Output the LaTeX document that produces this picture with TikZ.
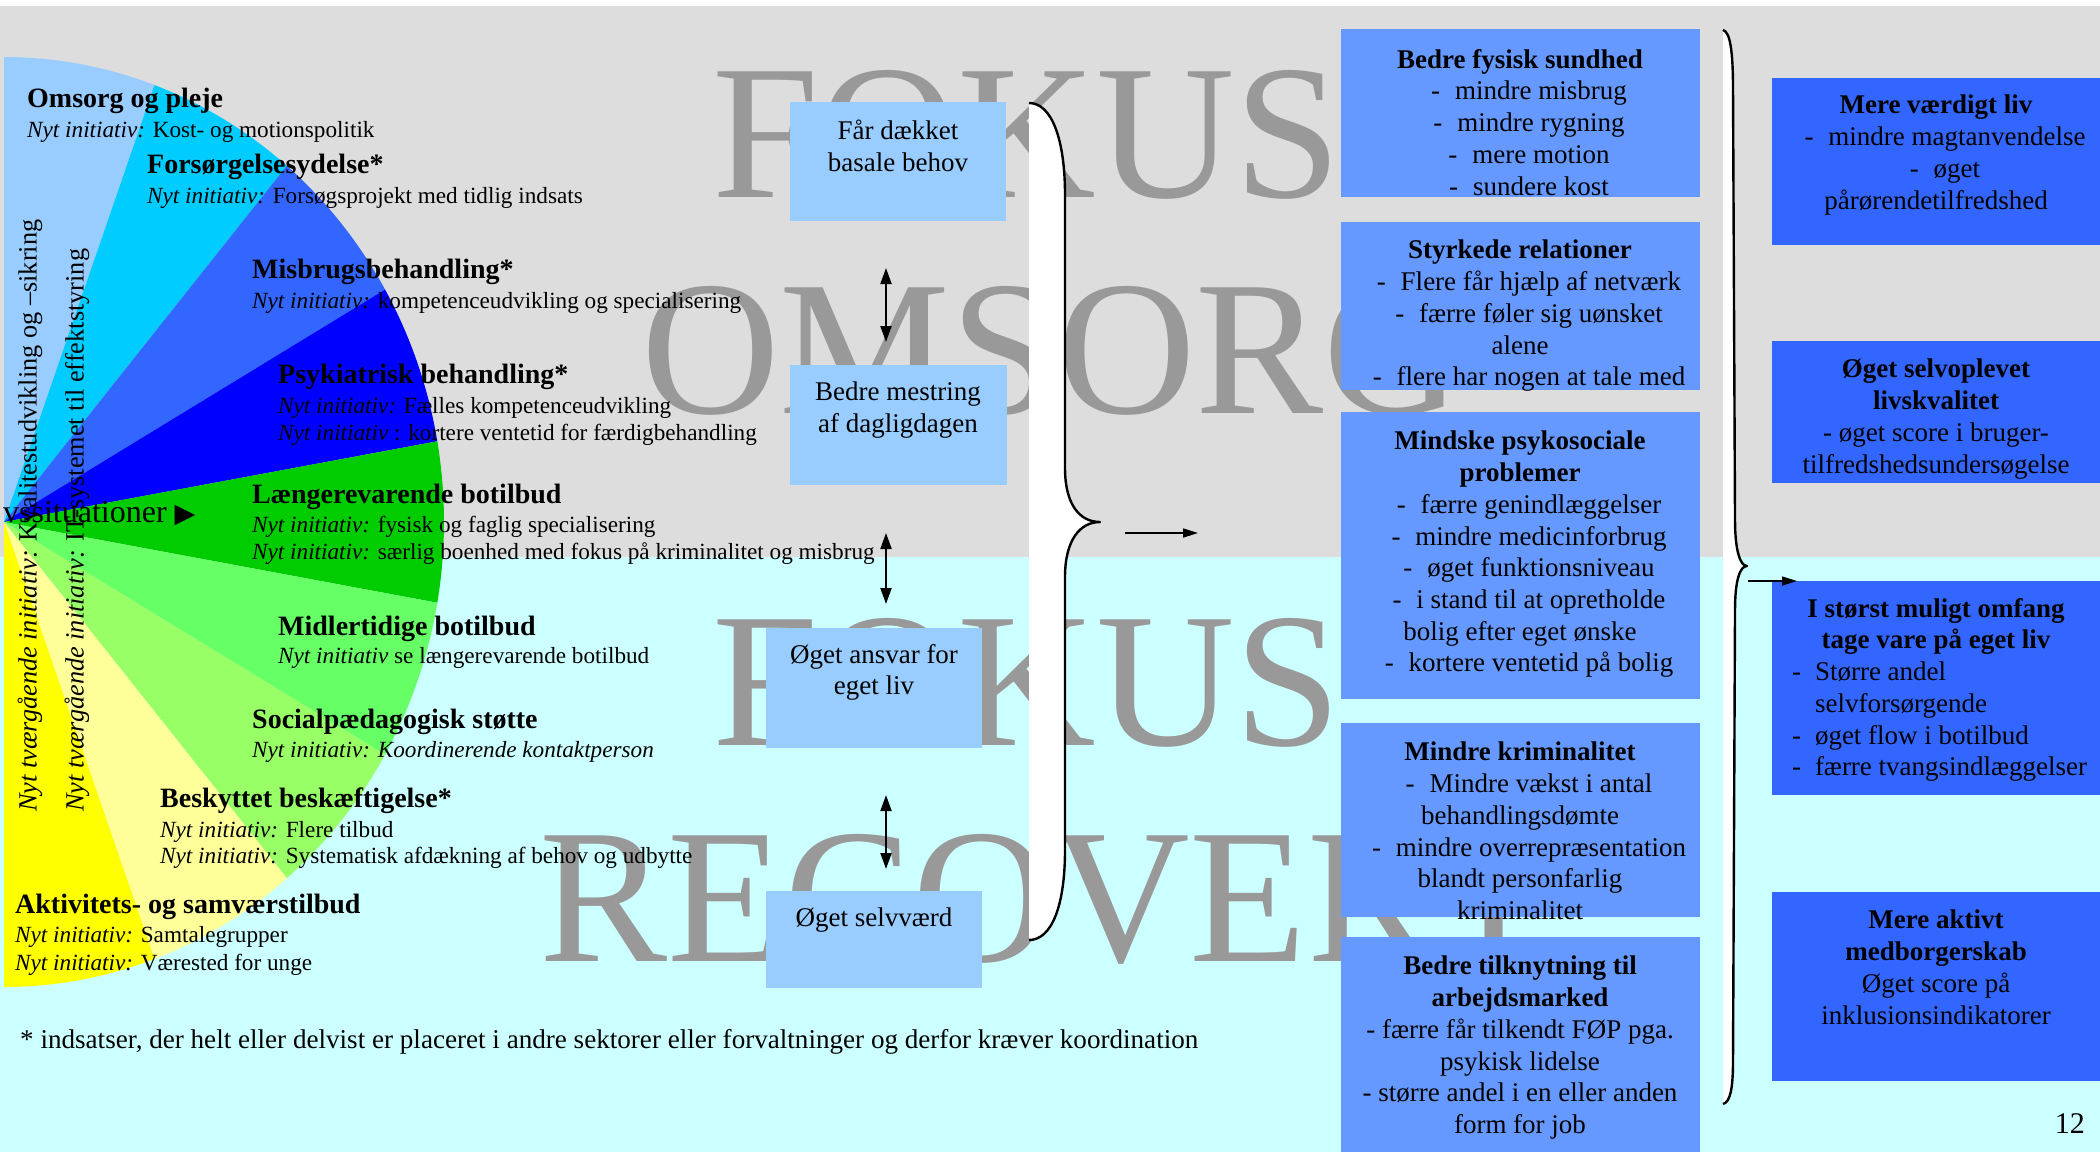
\documentclass[tikz,border=0pt]{standalone}
\usepackage{fontspec}
\setmainfont{Liberation Serif}
\newfontfamily\symfont{DejaVu Sans}
\usetikzlibrary{arrows.meta}
\definecolor{bggrey}{HTML}{DDDDDD}
\definecolor{bgcyan}{HTML}{CCFFFF}
\definecolor{lbcol}{HTML}{99CCFF}
\definecolor{mbcol}{HTML}{6699FF}
\definecolor{rbcol}{HTML}{3366FF}
\definecolor{greytxt}{HTML}{999999}
\definecolor{fanA}{HTML}{99CCFF}
\definecolor{fanB}{HTML}{00CCFF}
\definecolor{fanC}{HTML}{3366FF}
\definecolor{fanD}{HTML}{0000FF}
\definecolor{fanE}{HTML}{00CC00}
\definecolor{fanF}{HTML}{66FF66}
\definecolor{fanG}{HTML}{99FF66}
\definecolor{fanH}{HTML}{FFFF99}
\definecolor{fanI}{HTML}{FFFF00}
\newcommand\nyt{\textit{Nyt initiativ:}}
\newcommand\dsh{\hspace{18pt}-\hspace{0.55em}}
\begin{document}
\begin{tikzpicture}[x=1pt,y=-1pt,
  fanhead/.style={anchor=base west, inner sep=0pt, font=\fontsize{28}{32}\selectfont\bfseries},
  fansub/.style={anchor=base west, inner sep=0pt, font=\fontsize{23.2}{27}\selectfont},
  vert/.style={anchor=west, inner sep=0pt, rotate=90, font=\fontsize{26.3}{30}\selectfont},
  bigword/.style={anchor=base west, inner sep=0pt, text=greytxt, font=\fontsize{192}{200}\selectfont},
  boxtxt/.style={anchor=north, inner sep=0pt, align=center, font=\fontsize{27}{31.7}\selectfont},
  lbox/.style={fill=lbcol, inner sep=0pt, anchor=north west},
  mbox/.style={fill=mbcol, inner sep=0pt, anchor=north west},
  rbox/.style={fill=rbcol, inner sep=0pt, anchor=north west},
  dbl/.style={{Triangle[width=11pt,length=16pt]}-{Triangle[width=11pt,length=16pt]}, line width=2pt},
  harrow/.style={-{Triangle[width=9pt,length=15pt]}, line width=1.6pt},
  bracestroke/.style={line width=2.4pt, line join=round}
]
\useasboundingbox (0,0) rectangle (2100,1152);
\fill[white] (0,0) rectangle (2100,1152);
\fill[bggrey] (0,6) rectangle (2100,557);
\fill[bgcyan] (0,557) rectangle (2100,1152);

% fan
\foreach \a/\b/\col in {90/70/fanA,70/50/fanB,50/30/fanC,30/10/fanD,10/-10/fanE,-10/-30/fanF,-30/-50/fanG,-50/-70/fanH,-70/-90/fanI}{
  \fill[\col] (4,522) -- plot[domain=\a:\b, samples=40] ({4+440*cos(\x)},{522-465*sin(\x)}) -- cycle;
}

% big grey words
\node[bigword] (w1) at (712,197) {FOKUS};
\node[bigword] (w2) at (641,413) {OMSORG};
\node[bigword] (w3) at (712,745) {FOKUS};
\node[bigword] (w4) at (539,961) {RECOVERY};

% light boxes
\node[lbox, minimum width=216pt, minimum height=119pt] (b1) at (790,102) {};
\node[lbox, minimum width=217pt, minimum height=120pt] (b2) at (790,365) {};
\node[lbox, minimum width=216pt, minimum height=120pt] (b3) at (766,628) {};
\node[lbox, minimum width=216pt, minimum height=97pt] (b4) at (766,891) {};

% middle boxes
\node[mbox, minimum width=359pt, minimum height=168pt] (mA) at (1341,29) {};
\node[mbox, minimum width=359pt, minimum height=168pt] (mB) at (1341,222) {};
\node[mbox, minimum width=359pt, minimum height=287pt] (mC) at (1341,412) {};
\node[mbox, minimum width=359pt, minimum height=194pt] (mD) at (1341,723) {};
\node[mbox, minimum width=359pt, minimum height=215pt] (mE) at (1341,937) {};

% right boxes
\node[rbox, minimum width=328pt, minimum height=167pt] (r1) at (1772,78) {};
\node[rbox, minimum width=328pt, minimum height=142pt] (r2) at (1772,341) {};
\node[rbox, minimum width=328pt, minimum height=214pt] (r3) at (1772,581) {};
\node[rbox, minimum width=328pt, minimum height=189pt] (r4) at (1772,892) {};

% big brace
\fill[white] (1029,103) .. controls (1052,103) and (1065,140) .. (1065,195) -- (1065,468) .. controls (1065,505) and (1080,522) .. (1100,522) .. controls (1080,522) and (1065,540) .. (1065,577) -- (1065,850) .. controls (1065,905) and (1052,940) .. (1029,940) -- cycle;
\draw[bracestroke] (1029,103) .. controls (1052,103) and (1065,140) .. (1065,195) -- (1065,468) .. controls (1065,505) and (1080,522) .. (1100,522) .. controls (1080,522) and (1065,540) .. (1065,577) -- (1065,850) .. controls (1065,905) and (1052,940) .. (1029,940);

% right brace
\fill[white] (1723,30) .. controls (1730,32) and (1733,50) .. (1733,90) -- (1735,520) .. controls (1735,550) and (1740,566) .. (1747,566) .. controls (1740,566) and (1735,580) .. (1735,610) -- (1733,1060) .. controls (1733,1090) and (1730,1102) .. (1723,1104) -- cycle;
\draw[bracestroke] (1723,30) .. controls (1730,32) and (1733,50) .. (1733,90) -- (1735,520) .. controls (1735,550) and (1740,566) .. (1747,566) .. controls (1740,566) and (1735,580) .. (1735,610) -- (1733,1060) .. controls (1733,1090) and (1730,1102) .. (1723,1104);

% arrows
\coordinate (d1a) at (886,268); \coordinate (d1b) at (886,342);
\coordinate (d2a) at (886,533); \coordinate (d2b) at (886,604);
\coordinate (d3a) at (886,795); \coordinate (d3b) at (886,869);
\draw[dbl] (d1a) -- (d1b);
\draw[dbl] (d2a) -- (d2b);
\draw[dbl] (d3a) -- (d3b);
\coordinate (h1a) at (1125,533); \coordinate (h1b) at (1198,533);
\coordinate (h2a) at (1748,581); \coordinate (h2b) at (1797,581);
\draw[harrow] (h1a) -- (h1b);
\draw[harrow] (h2a) -- (h2b);

% light box texts
\node[boxtxt] (t1) at (898,120) {Får dækket\\basale behov};
\node[boxtxt] (t2) at (898,382) {Bedre mestring\\af dagligdagen};
\node[boxtxt] (t3) at (874,644) {Øget ansvar for\\eget liv};
\node[boxtxt] (t4) at (874,908) {Øget selvværd};

% middle box texts
\node[boxtxt] (tA) at (1520,49) {\textbf{Bedre fysisk sundhed}\\\dsh mindre misbrug\\\dsh mindre rygning\\\dsh mere motion\\\dsh sundere kost};
\node[boxtxt] (tB) at (1520,240) {\textbf{Styrkede relationer}\\\dsh Flere får hjælp af netværk\\\dsh færre føler sig uønsket\\alene\\\dsh flere har nogen at tale med};
\node[boxtxt] (tC) at (1520,431) {\textbf{Mindske psykosociale}\\\textbf{problemer}\\\dsh færre genindlæggelser\\\dsh mindre medicinforbrug\\\dsh øget funktionsniveau\\\dsh i stand til at opretholde\\bolig efter eget ønske\\\dsh kortere ventetid på bolig};
\node[boxtxt] (tD) at (1520,742) {\textbf{Mindre kriminalitet}\\\dsh Mindre vækst i antal\\behandlingsdømte\\\dsh mindre overrepræsentation\\blandt personfarlig\\kriminalitet};
\node[boxtxt] (tE) at (1520,956) {\textbf{Bedre tilknytning til}\\\textbf{arbejdsmarked}\\- færre får tilkendt FØP pga.\\psykisk lidelse\\- større andel i en eller anden\\form for job};

% right box texts
\node[boxtxt] (tr1) at (1936,95) {\textbf{Mere værdigt liv}\\\dsh mindre magtanvendelse\\\dsh øget\\pårørendetilfredshed};
\node[boxtxt] (tr2) at (1936,359) {\textbf{Øget selvoplevet}\\\textbf{livskvalitet}\\- øget score i bruger-\\tilfredshedsundersøgelse};
\node[boxtxt] (tr3) at (1936,598) {\textbf{I størst muligt omfang}\\\textbf{tage vare på eget liv}\\\makebox[288pt][l]{-\hspace{14pt}Større andel}\\\makebox[288pt][l]{\hspace{23pt}selvforsørgende}\\\makebox[288pt][l]{-\hspace{14pt}øget flow i botilbud}\\\makebox[288pt][l]{-\hspace{14pt}færre tvangsindlæggelser}};
\node[boxtxt] (tr4) at (1936,910) {\textbf{Mere aktivt}\\\textbf{medborgerskab}\\Øget score på\\inklusionsindikatorer};

% fan texts
\node[fanhead] (f1) at (27,107) {Omsorg og pleje};
\node[fansub] (f1a) at (27,137) {\nyt{} Kost- og motionspolitik};
\node[fanhead] (f2) at (147,173) {Forsørgelsesydelse*};
\node[fansub] (f2a) at (147,203) {\nyt{} Forsøgsprojekt med tidlig indsats};
\node[fanhead] (f3) at (252,278) {Misbrugsbehandling*};
\node[fansub] (f3a) at (252,308) {\nyt{} kompetenceudvikling og specialisering};
\node[fanhead] (f4) at (278,383) {Psykiatrisk behandling*};
\node[fansub] (f4a) at (278,413) {\nyt{} Fælles kompetenceudvikling};
\node[fansub] (f4b) at (278,440) {\textit{Nyt initiativ} : kortere ventetid for færdigbehandling};
\node[fanhead] (f5) at (252,503) {Længerevarende botilbud};
\node[fansub] (f5a) at (252,532) {\nyt{} fysisk og faglig specialisering};
\node[fansub] (f5b) at (252,559) {\nyt{} særlig boenhed med fokus på kriminalitet og misbrug};
\node[fanhead] (f6) at (278,635) {Midlertidige botilbud};
\node[fansub] (f6a) at (278,663) {\textit{Nyt initiativ} se længerevarende botilbud};
\node[fanhead] (f7) at (252,728) {Socialpædagogisk støtte};
\node[fansub] (f7a) at (252,757) {\textit{Nyt initiativ: Koordinerende kontaktperson}};
\node[fanhead] (f8) at (160,807) {Beskyttet beskæftigelse*};
\node[fansub] (f8a) at (160,837) {\nyt{} Flere tilbud};
\node[fansub] (f8b) at (160,863) {\nyt{} Systematisk afdækning af behov og udbytte};
\node[fanhead] (f9) at (15,913) {Aktivitets- og samværstilbud};
\node[fansub] (f9a) at (15,942) {\nyt{} Samtalegrupper};
\node[fansub] (f9b) at (15,970) {\nyt{} Værested for unge};

% vertical texts
\node[vert] (v1) at (30,812) {\textit{Nyt tværgående initiativ:} Kvalitestudvikling og –sikring};
\node[vert] (v2) at (77,812) {\textit{Nyt tværgående initiativ:} IT-systemet til effektstyring};
\node[anchor=base west, inner sep=0pt, font=\fontsize{32}{36}\selectfont] (vs) at (3,522) {vssituationer {\symfont\fontsize{27}{30}\selectfont ▶}};

% footnote and page number
\node[anchor=base west, inner sep=0pt, font=\fontsize{27.1}{31}\selectfont] (fn) at (20,1048) {* indsatser, der helt eller delvist er placeret i andre sektorer eller forvaltninger og derfor kræver koordination};
\node[anchor=base east, inner sep=0pt, font=\fontsize{30}{34}\selectfont] (pg) at (2085,1133) {12};
\end{tikzpicture}
\end{document}
